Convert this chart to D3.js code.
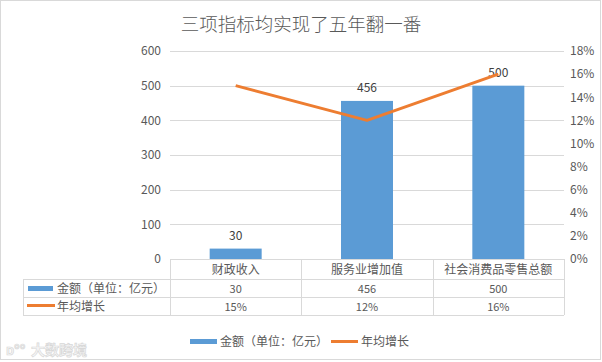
<!DOCTYPE html>
<html>
<head>
<meta charset="utf-8">
<script src="https://cdn.jsdelivr.net/npm/d3@7/dist/d3.min.js"></script>
<style>
  html, body { margin: 0; padding: 0; background: #fff; }
  svg { display: block; }
  text { font-family: "Noto Sans CJK SC", "Microsoft YaHei", sans-serif; }
</style>
</head>
<body>
<script>
const title = "三项指标均实现了五年翻一番";
const categories = ["财政收入", "服务业增加值", "社会消费品零售总额"];
const amounts = [30, 456, 500];
const growth = [15, 12, 16];
const amountName = "金额（单位：亿元）";
const growthName = "年均增长";
const leftTicks = [0, 100, 200, 300, 400, 500, 600];
const rightTicks = [0, 2, 4, 6, 8, 10, 12, 14, 16, 18];
const watermark = "大数跨境";

(function () {
const W = 602, H = 362;
const blue = "#5b9bd5", orange = "#ed7d31", textC = "#595959", gridC = "#d9d9d9";

const svg = d3.select("body").append("svg").attr("width", W).attr("height", H);

svg.append("rect").attr("x", 0.5).attr("y", 0.5).attr("width", W - 2).attr("height", H - 3)
  .attr("fill", "#fff").attr("stroke", gridC);

svg.append("text").attr("x", 301).attr("y", 31).attr("text-anchor", "middle")
  .attr("font-size", 18.5).attr("font-weight", 300).attr("fill", textC).text(title);

const pL = 170, pR = 564, pT = 51, pB = 259;
const x = d3.scaleBand().domain(categories).range([pL, pR]).paddingInner(0).paddingOuter(0);
const yL = d3.scaleLinear().domain([0, 600]).range([pB, pT]);
const yR = d3.scaleLinear().domain([0, 18]).range([pB, pT]);

// gridlines
svg.append("g").selectAll("line").data(leftTicks.filter(d => d > 0)).join("line")
  .attr("x1", pL).attr("x2", pR)
  .attr("y1", d => Math.round(yL(d)) + 0.5).attr("y2", d => Math.round(yL(d)) + 0.5)
  .attr("stroke", gridC);

// left axis
const axL = svg.append("g").attr("transform", `translate(${pL - 9},0)`)
  .call(d3.axisLeft(yL).tickValues(leftTicks).tickSize(0).tickPadding(0));
axL.select(".domain").remove();
axL.selectAll("text").attr("font-size", 12).attr("fill", textC)
  .style("font-family", "'Noto Sans CJK SC', sans-serif");

// right axis
const axR = svg.append("g").attr("transform", `translate(${pR + 6},0)`)
  .call(d3.axisRight(yR).tickValues(rightTicks).tickFormat(d => d + "%").tickSize(0).tickPadding(0));
axR.select(".domain").remove();
axR.selectAll("text").attr("font-size", 12).attr("fill", textC)
  .style("font-family", "'Noto Sans CJK SC', sans-serif");

// bars
const barW = 52;
svg.append("g").selectAll("rect").data(amounts).join("rect")
  .attr("x", (d, i) => x(categories[i]) + x.bandwidth() / 2 - barW / 2)
  .attr("y", d => yL(d)).attr("width", barW).attr("height", d => pB - yL(d))
  .attr("fill", blue);

svg.append("g").selectAll("text").data(amounts).join("text")
  .attr("x", (d, i) => x(categories[i]) + x.bandwidth() / 2)
  .attr("y", d => yL(d) - 9)
  .attr("text-anchor", "middle").attr("font-size", 12).attr("fill", "#404040")
  .text(d => d);

// line
const line = d3.line().x((d, i) => x(categories[i]) + x.bandwidth() / 2).y(d => yR(d));
svg.append("path").datum(growth).attr("d", line).attr("fill", "none")
  .attr("stroke", orange).attr("stroke-width", 3).attr("stroke-linejoin", "round");

// axis baseline + data table
const tl = 23;
const tg = svg.append("g");
tg.append("line").attr("x1", pL).attr("x2", pR).attr("y1", pB + 0.5).attr("y2", pB + 0.5).attr("stroke", gridC);
[279, 297, 315].forEach(y => {
  tg.append("line").attr("x1", tl).attr("x2", pR).attr("y1", y + 0.5).attr("y2", y + 0.5).attr("stroke", gridC);
});
tg.append("line").attr("x1", tl + 0.5).attr("x2", tl + 0.5).attr("y1", 279).attr("y2", 315).attr("stroke", gridC);
[pL, ...categories.map(c => x(c) + x.bandwidth())].forEach(xx => {
  tg.append("line").attr("x1", Math.round(xx) + 0.5).attr("x2", Math.round(xx) + 0.5)
    .attr("y1", pB).attr("y2", 315).attr("stroke", gridC);
});

tg.selectAll("text.cat").data(categories).join("text").attr("class", "cat")
  .attr("x", d => x(d) + x.bandwidth() / 2).attr("y", 273.5)
  .attr("text-anchor", "middle").attr("font-size", 12).attr("fill", textC).text(d => d);
tg.selectAll("text.amt").data(amounts).join("text").attr("class", "amt")
  .attr("x", (d, i) => x(categories[i]) + x.bandwidth() / 2).attr("y", 292.5)
  .attr("text-anchor", "middle").attr("font-size", 11).attr("fill", textC).text(d => d);
tg.selectAll("text.gr").data(growth).join("text").attr("class", "gr")
  .attr("x", (d, i) => x(categories[i]) + x.bandwidth() / 2).attr("y", 310.5)
  .attr("text-anchor", "middle").attr("font-size", 11).attr("fill", textC).text(d => d + "%");

tg.append("rect").attr("x", 28).attr("y", 286).attr("width", 25).attr("height", 5).attr("fill", blue);
tg.append("text").attr("x", 57).attr("y", 292.5).attr("font-size", 12).attr("fill", textC).text(amountName);
tg.append("line").attr("x1", 27).attr("x2", 55).attr("y1", 305.5).attr("y2", 305.5)
  .attr("stroke", orange).attr("stroke-width", 3);
tg.append("text").attr("x", 57).attr("y", 310.5).attr("font-size", 12).attr("fill", textC).text(growthName);

// bottom legend
const lg = svg.append("g");
lg.append("rect").attr("x", 190).attr("y", 339).attr("width", 27).attr("height", 5).attr("fill", blue);
lg.append("text").attr("x", 220).attr("y", 346).attr("font-size", 12).attr("fill", textC).text(amountName);
lg.append("line").attr("x1", 331).attr("x2", 358).attr("y1", 341.5).attr("y2", 341.5)
  .attr("stroke", orange).attr("stroke-width", 3);
lg.append("text").attr("x", 361).attr("y", 346).attr("font-size", 12).attr("fill", textC).text(growthName);

// watermark
const wm = svg.append("g").attr("opacity", 0.8);
wm.append("text").attr("x", 6).attr("y", 355).attr("font-size", 14).attr("font-weight", "bold")
  .attr("fill", "#f4f4f4").attr("stroke", "#cfcfcf").attr("stroke-width", 0.7).text("ᴅ°°");
wm.append("text").attr("x", 31).attr("y", 355).attr("font-size", 14).attr("font-weight", "bold")
  .attr("fill", "#f4f4f4").attr("stroke", "#cfcfcf").attr("stroke-width", 0.7).text(watermark);
})();
</script>
</body>
</html>
